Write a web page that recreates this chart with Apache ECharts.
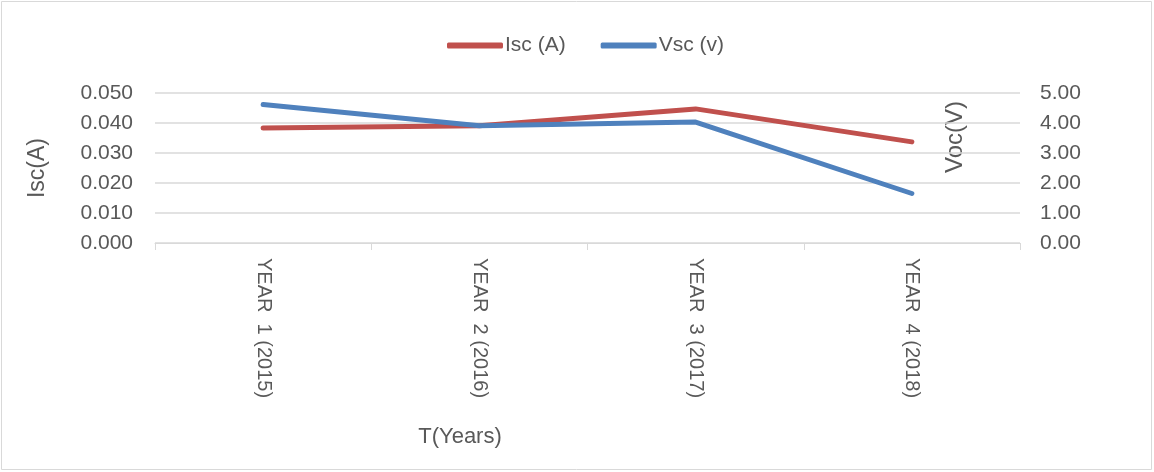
<!DOCTYPE html>
<html>
<head>
<meta charset="utf-8">
<script src="https://cdn.jsdelivr.net/npm/echarts@6/dist/echarts.min.js"></script>
<style>
  html, body { margin: 0; padding: 0; background: #fff; }
  #chart { width: 1154px; height: 472px; }
</style>
</head>
<body>
<div id="chart"></div>
<script>
  // data
  var categories = ['YEAR  1 (2015)', 'YEAR  2 (2016)', 'YEAR  3 (2017)', 'YEAR  4 (2018)'];
  var iscValues = [0.0383, 0.0391, 0.0447, 0.0337];
  var vscValues = [4.62, 3.91, 4.03, 1.65];

  var font = 'Liberation Sans, Arial, sans-serif';
  var grey = '#595959';

  var myChart = echarts.init(document.getElementById('chart'));
  var option = {
    animation: false,
    textStyle: { fontFamily: font },
    legend: {
      top: 30,
      left: 442,
      itemWidth: 56,
      itemHeight: 6,
      itemGap: 35,
      icon: 'roundRect',
      textStyle: { fontSize: 21, color: grey, fontFamily: font, padding: [0, 0, 0, -3] },
      data: ['Isc (A)', 'Vsc (v)']
    },
    grid: { left: 155, right: 134, top: 93, bottom: 229 },
    xAxis: {
      type: 'category',
      data: categories,
      boundaryGap: true,
      axisLine: { lineStyle: { color: '#d9d9d9', width: 1 } },
      axisTick: { show: true, length: 7, lineStyle: { color: '#d9d9d9' } },
      axisLabel: { rotate: -90, margin: 15, fontSize: 20, color: grey, fontFamily: font }
    },
    yAxis: [
      {
        type: 'value',
        min: 0,
        max: 0.05,
        interval: 0.01,
        name: 'Isc(A)',
        nameLocation: 'middle',
        nameGap: 106,
        nameTextStyle: { fontSize: 23, color: grey, fontFamily: font },
        axisLine: { show: false },
        axisTick: { show: false },
        splitLine: { lineStyle: { color: '#d9d9d9', width: 1.5 } },
        axisLabel: {
          margin: 22, fontSize: 21, color: grey, fontFamily: font,
          formatter: function (v) { return v.toFixed(3); }
        }
      },
      {
        type: 'value',
        min: 0,
        max: 5,
        interval: 1,
        axisLine: { show: false },
        axisTick: { show: false },
        splitLine: { show: false },
        axisLabel: {
          margin: 20, fontSize: 21, color: grey, fontFamily: font,
          formatter: function (v) { return v.toFixed(2); }
        }
      }
    ],
    graphic: [
      {
        type: 'rect',
        shape: { x: 1.5, y: 1.5, width: 1150, height: 468 },
        style: { fill: 'none', stroke: '#d9d9d9', lineWidth: 1 },
        silent: true
      },
      {
        type: 'text',
        x: 955,
        y: 137,
        rotation: Math.PI / 2,
        style: {
          text: 'Voc(V)', fill: grey, fontSize: 24, fontFamily: font,
          align: 'center', verticalAlign: 'middle'
        }
      },
      {
        type: 'text',
        x: 460,
        y: 437,
        style: {
          text: 'T(Years)', fill: grey, fontSize: 22, fontFamily: font,
          align: 'center', verticalAlign: 'middle'
        }
      }
    ],
    series: [
      {
        name: 'Isc (A)',
        type: 'line',
        yAxisIndex: 0,
        data: iscValues,
        symbol: 'none',
        color: '#c0504d',
        lineStyle: { width: 5, cap: 'round', join: 'round' }
      },
      {
        name: 'Vsc (v)',
        type: 'line',
        yAxisIndex: 1,
        data: vscValues,
        symbol: 'none',
        color: '#4f81bd',
        lineStyle: { width: 5, cap: 'round', join: 'round' }
      }
    ]
  };
  option && myChart.setOption(option);
</script>
</body>
</html>
